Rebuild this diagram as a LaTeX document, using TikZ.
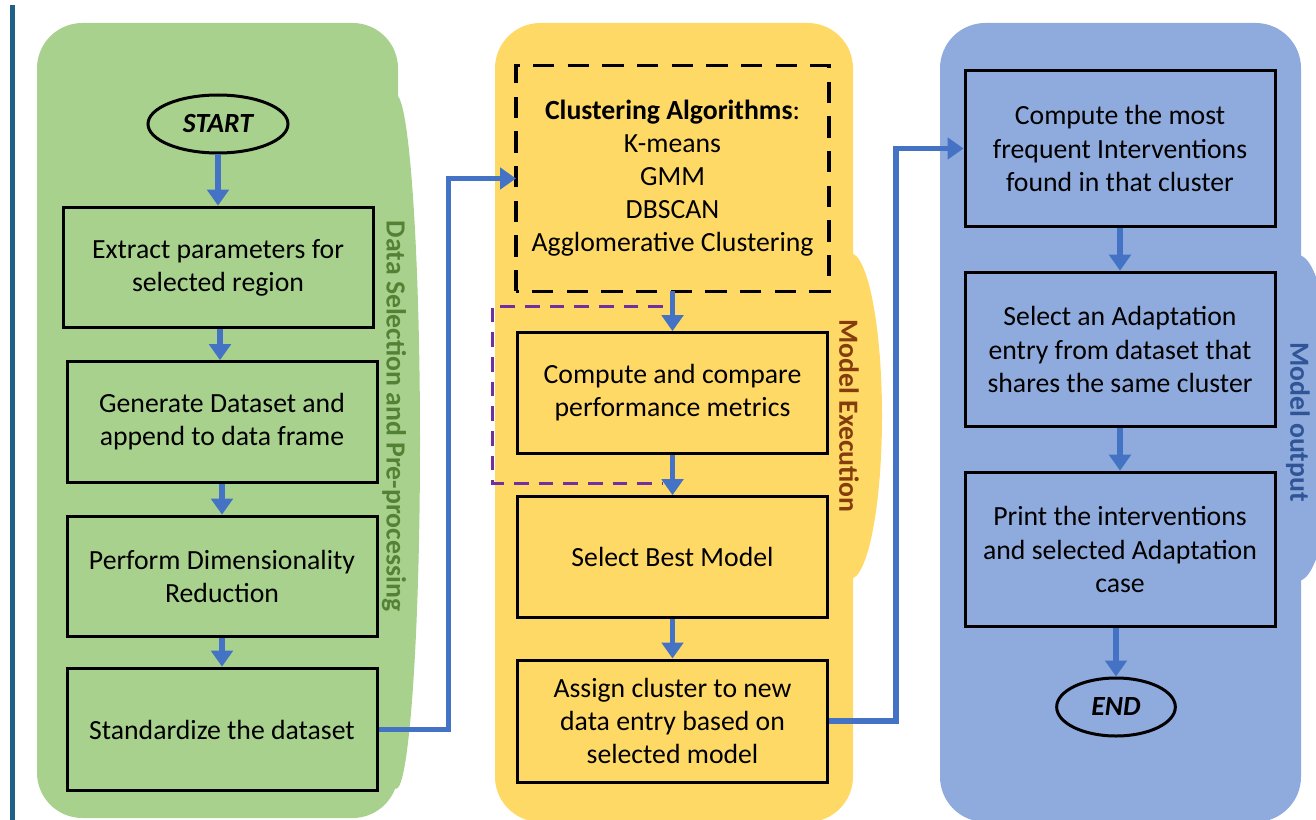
\documentclass[tikz,border=0pt]{standalone}
\usepackage{fontspec}
\setmainfont{Carlito}
\usepackage{tikz}
\usetikzlibrary{shapes,arrows.meta,positioning}

\definecolor{panelgreen}{RGB}{169,209,142}
\definecolor{panelyellow}{RGB}{255,217,102}
\definecolor{panelblue}{RGB}{143,170,220}
\definecolor{flowblue}{RGB}{68,114,196}
\definecolor{labelgreen}{RGB}{84,130,53}
\definecolor{labelbrown}{RGB}{132,60,12}
\definecolor{labelblue}{RGB}{47,85,151}
\definecolor{dashpurple}{RGB}{112,48,160}
\definecolor{edgeblue}{RGB}{31,96,134}

\begin{document}
\begin{tikzpicture}[x=0.75pt,y=0.75pt,yscale=-1,xscale=1,
    txt/.style={font=\fontsize{20.8}{24.8}\selectfont},
    stepbox/.style={txt,draw=black,line width=2.25pt,minimum width=232.5pt,minimum height=90.5pt,align=center,inner sep=0pt},
    terminal/.style={ellipse,draw=black,line width=2.25pt,inner sep=0pt,font=\fontsize{20.8}{24.8}\selectfont\bfseries\itshape},
    flowline/.style={draw=flowblue,line width=4pt},
    flow/.style={flowline,-{Triangle[width=16pt,length=12pt]}},
    sidelabel/.style={rotate=-90,font=\fontsize{20.8}{24.8}\selectfont\bfseries}
]
    \useasboundingbox (0,0) rectangle (1316,820);
    \clip (0,0) rectangle (1316,820);

    %Straight Lines: left rule
    \draw [edgeblue,line width=3.75pt] (12,5) -- (12,820) ;

    %Shape: panels with side tabs
    \fill [panelgreen] (396,442) ellipse [x radius=24, y radius=347] ;
    \fill [panelgreen,rounded corners=34pt] (37,23) rectangle (398,818) ;
    \fill [panelyellow] (850,416) ellipse [x radius=32, y radius=163] ;
    \fill [panelyellow,rounded corners=34pt] (495,23) rectangle (853,822) ;
    \fill [panelblue] (1298,418) ellipse [x radius=36, y radius=163] ;
    \fill [panelblue,rounded corners=34pt] (940,23) rectangle (1301,822) ;

    %Shape: purple dashed bracket
    \draw [dashpurple,line width=2.25pt,dash pattern={on 11pt off 7.5pt}] (663,306) -- (492,306) -- (492,483) -- (663,483) ;

    % Text Node: data selection column
    \node [terminal,minimum width=105pt,minimum height=43.5pt] (start) at (218,124) {START};
    \node [stepbox] (extract) at (218,267.5) {Extract parameters for\\selected region};
    \node [stepbox] (generate) at (222,422) {Generate Dataset and\\append to data frame};
    \node [stepbox] (reduce) at (222,576.5) {Perform Dimensionality\\Reduction};
    \node [stepbox,minimum height=92pt] (standard) at (222,729.5) {Standardize the dataset};

    % Text Node: model execution column
    \node [stepbox,draw=none,minimum height=167pt] (algo) at (672.5,178.5) {\textbf{Clustering Algorithms}:\\K-means\\GMM\\DBSCAN\\Agglomerative Clustering};
    \draw [line width=2.6pt,dash pattern={on 16pt off 10pt}] (algo.south west) rectangle (algo.north east) ;
    \node [stepbox] (metrics) at (672.5,393) {Compute and compare\\performance metrics};
    \node [stepbox] (best) at (672.5,557) {Select Best Model};
    \node [stepbox,minimum height=91.5pt] (assign) at (672.5,721) {Assign cluster to new\\data entry based on\\selected model};

    % Text Node: model output column
    \node [stepbox,minimum height=117.5pt] (freq) at (1120,148.5) {Compute the most\\frequent Interventions\\found in that cluster};
    \node [stepbox,minimum height=116pt] (adapt) at (1120,349.5) {Select an Adaptation\\entry from dataset that\\shares the same cluster};
    \node [stepbox,minimum height=116pt] (printcase) at (1120,549.5) {Print the interventions\\and selected Adaptation\\case};
    \node [terminal,minimum width=89pt,minimum height=43.5pt] (finish) at (1116,707) {END};

    % Text Node: side labels
    \node [sidelabel,text=labelgreen] (lbldata) at (394,416) {Data Selection and Pre-processing};
    \node [sidelabel,text=labelbrown] (lblexec) at (849,416) {Model Execution};
    \node [sidelabel,text=labelblue] (lblout) at (1298,422) {Model output};

    %Straight Lines: arrows inside panels
    \draw [flow] (start.south) -- (start.south |- extract.north) ;
    \draw [flow] (extract.south -| 220,0) -- (generate.north -| 220,0) ;
    \draw [flow] (generate.south -| 222,0) -- (reduce.north) ;
    \draw [flow] (reduce.south) -- (standard.north) ;
    \draw [flow] (algo.south) -- (metrics.north) ;
    \draw [flow] (metrics.south) -- (best.north) ;
    \draw [flow] (best.south) -- (assign.north) ;
    \draw [flow] (freq.south) -- (adapt.north) ;
    \draw [flow] (adapt.south) -- (printcase.north) ;
    \draw [flow] (printcase.south -| finish) -- (finish.north) ;

    %Straight Lines: arrows between panels
    \draw [flow] (standard.east) -- ++(70,0) |- (algo.west) ;
    \draw [flow] (assign.east) -- ++(67,0) |- (freq.west) ;

\end{tikzpicture}
\end{document}
